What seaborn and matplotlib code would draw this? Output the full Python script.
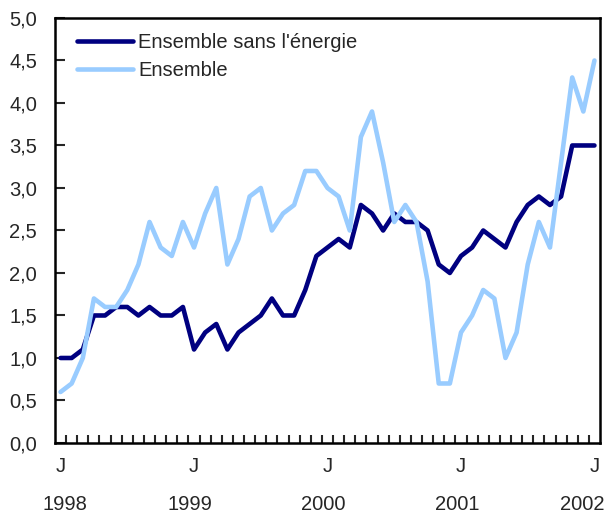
import pandas as pd
import matplotlib
matplotlib.use("Agg")
import matplotlib.pyplot as plt
import numpy as np
import seaborn as sns
from matplotlib.ticker import FuncFormatter, MultipleLocator

# monthly, Jan 1998 -> Jan 2002
sans_energie = [1.0, 1.0, 1.1, 1.5, 1.5, 1.6, 1.6, 1.5, 1.6, 1.5, 1.5, 1.6,
                1.1, 1.3, 1.4, 1.1, 1.3, 1.4, 1.5, 1.7, 1.5, 1.5, 1.8, 2.2,
                2.3, 2.4, 2.3, 2.8, 2.7, 2.5, 2.7, 2.6, 2.6, 2.5, 2.1, 2.0,
                2.2, 2.3, 2.5, 2.4, 2.3, 2.6, 2.8, 2.9, 2.8, 2.9, 3.5, 3.5,
                3.5]
ensemble = [0.6, 0.7, 1.0, 1.7, 1.6, 1.6, 1.8, 2.1, 2.6, 2.3, 2.2, 2.6,
            2.3, 2.7, 3.0, 2.1, 2.4, 2.9, 3.0, 2.5, 2.7, 2.8, 3.2, 3.2,
            3.0, 2.9, 2.5, 3.6, 3.9, 3.3, 2.6, 2.8, 2.6, 1.9, 0.7, 0.7,
            1.3, 1.5, 1.8, 1.7, 1.0, 1.3, 2.1, 2.6, 2.3, 3.3, 4.3, 3.9,
            4.5]
annees = ["1998", "1999", "2000", "2001", "2002"]
noms = ["Ensemble sans l'énergie", "Ensemble"]
couleurs = ["#000080", "#99CCFF"]

mois = np.arange(len(ensemble))
df = pd.DataFrame({
    "mois": np.concatenate([mois, mois]),
    "valeur": sans_energie + ensemble,
    "serie": [noms[0]] * len(mois) + [noms[1]] * len(mois),
})

sns.set_style("white")
plt.rcParams["font.family"] = ["Liberation Sans", "DejaVu Sans"]
fs = 14.5

fig = plt.figure(figsize=(6.07, 5.18), dpi=100)
ax = fig.add_axes([0.0906, 0.1448, 0.8979, 0.8205])

sns.lineplot(data=df, x="mois", y="valeur", hue="serie", hue_order=noms,
             palette=dict(zip(noms, couleurs)), lw=3.3, ax=ax)
ax.legend(loc="upper left", bbox_to_anchor=(0.04, 0.965), frameon=False,
          fontsize=fs, handlelength=2.8, handletextpad=0.25, labelspacing=0.45,
          borderaxespad=0, borderpad=0)
for l in ax.get_legend().get_lines():
    l.set_linewidth(3.3)

ax.set_xlim(-0.5, 48.5)
ax.set_ylim(0, 5)
ax.yaxis.set_major_locator(MultipleLocator(0.5))
ax.yaxis.set_major_formatter(FuncFormatter(lambda v, p: f"{v:.1f}".replace(".", ",")))
ax.set_xticks([0, 12, 24, 36, 48])
ax.set_xticklabels(["J"] * 5)
ax.set_xticks(np.arange(0.5, 48, 1), minor=True)
ax.tick_params(axis="x", which="major", length=0, pad=10, labelsize=fs)
ax.tick_params(axis="x", which="minor", direction="in", length=6, width=1.5, bottom=True)
ax.tick_params(axis="y", direction="in", length=7, width=1.5, left=True, pad=13, labelsize=fs)
ax.set_xlabel("")
ax.set_ylabel("")

# years under the J's (first and last nudged to fit, like the original)
decal = [4, -4, -4, -4, -12]
for i, a in enumerate(annees):
    ax.annotate(a, xy=(i * 12, 0), xycoords=("data", "axes fraction"),
                xytext=(decal[i] * 0.72, -62 * 0.72), textcoords="offset points",
                ha="center", va="center", fontsize=fs)

for s in ax.spines.values():
    s.set_color("black")
    s.set_linewidth(1.8)

fig.savefig("out.png", dpi=100)
